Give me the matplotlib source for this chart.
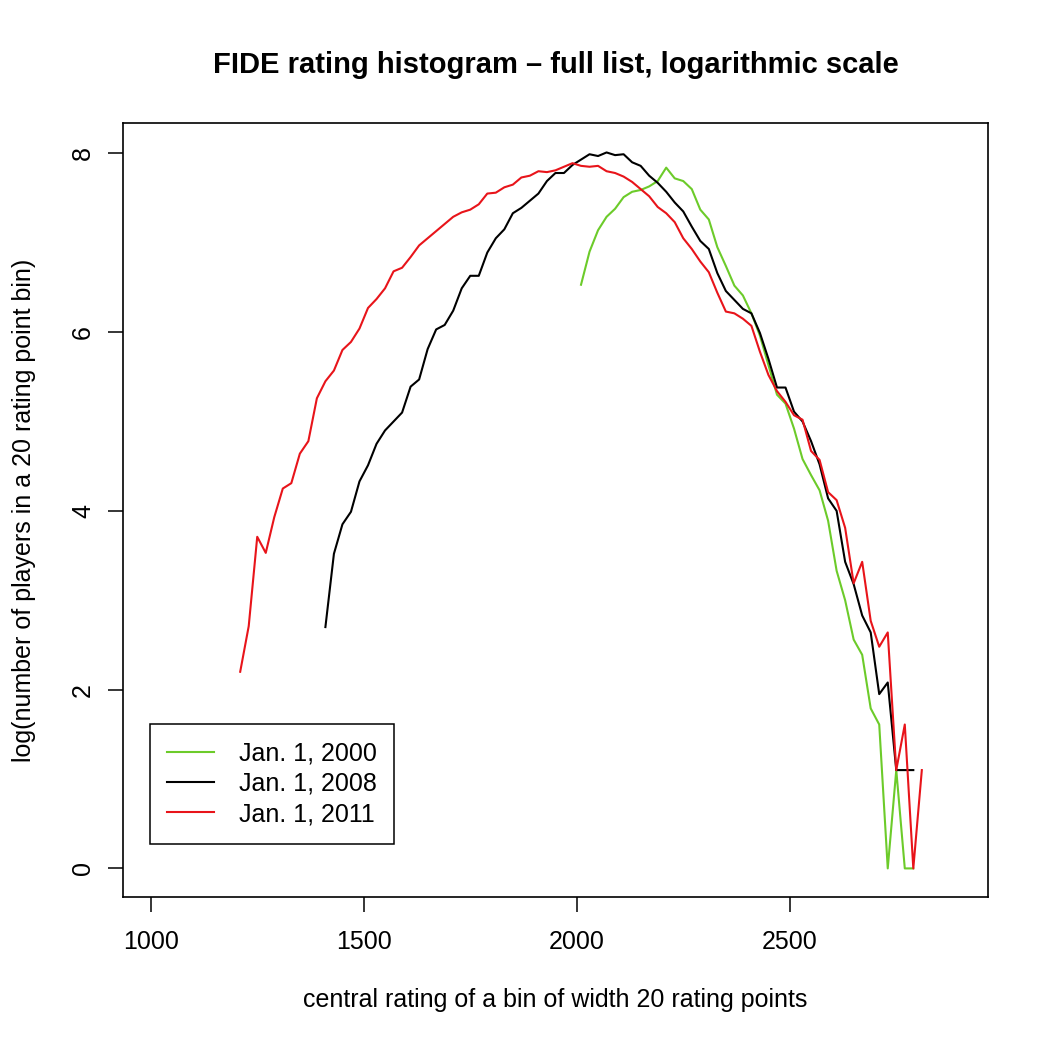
import matplotlib.pyplot as plt

plt.rcParams['font.family'] = ['Liberation Sans', 'DejaVu Sans']

# bin centres (width 20) and log counts
x_2000 = list(range(2010, 2791, 20))
y_2000 = [6.53, 6.90, 7.14, 7.29, 7.38, 7.51, 7.57, 7.59, 7.63, 7.69,
          7.84, 7.72, 7.69, 7.60, 7.37, 7.26, 6.95, 6.74, 6.52, 6.41,
          6.21, 5.96, 5.63, 5.30, 5.20, 4.92, 4.58, 4.40, 4.23, 3.89,
          3.33, 3.00, 2.56, 2.39, 1.79, 1.61, 0.0, 1.10, 0.0, 0.0]

x_2008 = list(range(1410, 2791, 20))
y_2008 = [2.70, 3.52, 3.85, 3.99, 4.33, 4.51, 4.75, 4.90, 5.00, 5.10,
          5.39, 5.47, 5.81, 6.03, 6.08, 6.24, 6.49, 6.63, 6.63, 6.89,
          7.05, 7.15, 7.33, 7.39, 7.47, 7.55, 7.69, 7.78, 7.78, 7.87,
          7.93, 7.99, 7.97, 8.01, 7.98, 7.99, 7.90, 7.86, 7.75, 7.67,
          7.57, 7.45, 7.35, 7.18, 7.02, 6.93, 6.66, 6.46, 6.36, 6.26,
          6.21, 5.99, 5.70, 5.38, 5.38, 5.11, 5.00, 4.78, 4.52, 4.14,
          4.00, 3.43, 3.18, 2.83, 2.64, 1.95, 2.08, 1.10, 1.10, 1.10]

x_2011 = list(range(1210, 2811, 20))
y_2011 = [2.20, 2.71, 3.71, 3.53, 3.93, 4.25, 4.31, 4.64, 4.78, 5.26,
          5.45, 5.57, 5.80, 5.89, 6.04, 6.27, 6.37, 6.49, 6.68, 6.72,
          6.84, 6.97, 7.05, 7.13, 7.21, 7.29, 7.34, 7.37, 7.43, 7.55,
          7.56, 7.62, 7.65, 7.73, 7.75, 7.80, 7.79, 7.81, 7.85, 7.89,
          7.86, 7.85, 7.86, 7.80, 7.78, 7.74, 7.68, 7.60, 7.52, 7.40,
          7.33, 7.23, 7.05, 6.93, 6.79, 6.67, 6.44, 6.23, 6.21, 6.15,
          6.07, 5.78, 5.52, 5.34, 5.22, 5.07, 5.02, 4.67, 4.57, 4.21,
          4.12, 3.81, 3.19, 3.43, 2.77, 2.48, 2.64, 1.10, 1.61, 0.0,
          1.10]

fig = plt.figure(figsize=(10.5, 10.5), dpi=100)
ax = fig.add_axes([0.1171, 0.1457, 0.8238, 0.7372])

ax.plot(x_2000, y_2000, color='#6CCB2A', lw=1.5, label='Jan. 1, 2000')
ax.plot(x_2008, y_2008, color='black', lw=1.5, label='Jan. 1, 2008')
ax.plot(x_2011, y_2011, color='#E8141A', lw=1.5, label='Jan. 1, 2011')

ax.set_xlim(934.8, 2965.2)
ax.set_ylim(-0.32, 8.34)
ax.set_xticks([1000, 1500, 2000, 2500])
ax.set_yticks([0, 2, 4, 6, 8])
ax.tick_params(axis='both', labelsize=18, length=11, width=1.1)
ax.tick_params(axis='x', pad=13)
ax.tick_params(axis='y', pad=9)
for lab in ax.get_yticklabels():
    lab.set_rotation(90)
    lab.set_va('center')
for s in ax.spines.values():
    s.set_linewidth(1.2)

ax.set_xlabel('central rating of a bin of width 20 rating points', fontsize=18, labelpad=24)
ax.set_ylabel('log(number of players in a 20 rating point bin)', fontsize=18, labelpad=25)
fig.suptitle('FIDE rating histogram \u2013 full list, logarithmic scale',
             fontsize=21, fontweight='bold', x=0.529, y=0.951)

leg = ax.legend(loc='upper left', bbox_to_anchor=(0.031, 0.2235), borderaxespad=0,
                fancybox=False, edgecolor='black', framealpha=1, fontsize=18,
                handlelength=1.85, handletextpad=1.0, borderpad=0.7, labelspacing=0.25)
leg.get_frame().set_linewidth(1.1)

plt.savefig('out.png')
